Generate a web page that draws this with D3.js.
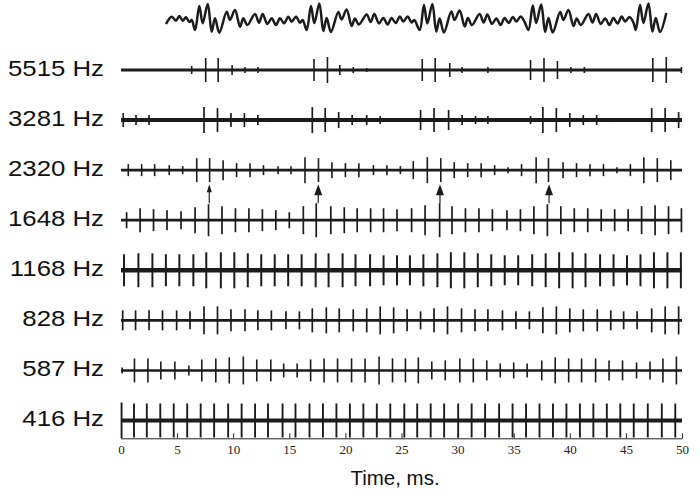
<!DOCTYPE html>
<html><head><meta charset="utf-8">
<script src="https://cdn.jsdelivr.net/npm/d3@7"></script>
<style>body{margin:0;background:#fff}svg{display:block}</style>
</head><body><svg id="chart" width="700" height="497"></svg>
<script>
// ---------- data ----------
const channels = ["5515 Hz","3281 Hz","2320 Hz","1648 Hz","1168 Hz","828 Hz","587 Hz","416 Hz"];
const xTicks = [0,5,10,15,20,25,30,35,40,45,50];
const xLabel = "Time, ms.";

const t5515 = [6.3,7.55,8.66,9.9,11.05,12.2,17.2,18.4,19.5,20.7,21.9,26.85,28.0,29.3,30.4,32.7,36.5,37.7,38.9,40.1,41.3,47.4,48.6,49.95];
const a5515 = [4,12,12,5,3,3,11,13,5,3,2,11,12,7,3,3,10,12,9,3,3,12,13,3];

const t3281 = [0.2,1.34,2.5,3.8,7.4,8.6,9.8,11.0,12.2,13.4,17.05,18.2,19.4,20.6,21.9,23.1,26.7,27.9,29.2,30.4,31.6,32.7,34.0,36.5,37.6,38.8,40.0,41.2,42.4,43.7,47.3,48.5,49.7];
const a3281 = [7,5,5,2,13,12,7,7,5,2,13,12,8,5,5,4,10,12,10,5,4,4,2,4,13,12,7,5,5,2,12,12,8];

const t2320 = [0.65,1.84,3.0,4.3,5.5,6.75,7.9,9.1,10.3,11.5,12.7,14.0,15.15,16.4,17.6,18.8,20.0,21.2,22.5,23.7,24.9,26.05,27.3,28.5,29.7,30.9,32.1,33.3,34.5,35.7,37.0,38.1,39.4,40.6,41.8,43.0,44.2,45.4,46.6,47.8,49.0];
const a2320 = [6,6,6,5,4,12,12,10,7,7,5,4,4,13,12,8,7,7,5,5,4,9,13,12,8,7,7,5,3,6,13,12,8,7,6,6,3,6,13,12,10];

const t1648 = [0.5,1.7,2.9,4.1,5.35,6.6,7.8,9.0,10.2,11.4,12.6,13.8,15.0,16.25,17.4,18.7,19.9,21.05,22.25,23.4,24.6,25.9,27.1,28.4,29.5,30.7,31.9,33.1,34.4,35.6,36.8,38.0,39.2,40.4,41.6,42.8,44.0,45.2,46.4,47.6,48.8,49.95];
const a1648 = [8,12,11,10,9,13,16,14,12,12,11,10,8,14,17,14,13,12,12,12,11,12,15,17,14,12,12,11,10,11,14,16,14,12,12,11,11,11,14,15,14,12];

const t1168 = [0.27,1.55,2.8,4.0,5.2,6.45,7.6,8.9,10.1,11.3,12.5,13.7,14.9,16.1,17.35,18.5,19.75,20.9,22.2,23.4,24.6,25.75,26.95,28.2,29.4,30.6,31.8,33.0,34.2,35.4,36.65,37.85,39.05,40.25,41.4,42.7,43.9,45.1,46.3,47.5,48.7,49.9];
const a1168 = [16,17,17,16,16,16,18,18,18,17,16,16,16,16,17,17,17,16,16,15,15,15,16,17,18,18,17,16,15,15,16,17,18,18,17,16,16,15,16,18,18,18];

const t828 = [0.15,1.3,2.5,3.7,4.96,6.15,7.4,8.6,9.8,11.05,12.2,13.4,14.7,15.9,17.05,18.3,19.45,20.7,21.9,23.1,24.3,25.5,26.7,27.9,29.1,30.35,31.55,32.7,34.0,35.2,36.4,37.6,38.8,40.0,41.2,42.45,43.65,44.8,46.0,47.3,48.5,49.7];
const a828 = [10,10,10,10,10,9,14,14,11,11,10,10,9,9,12,13,12,11,12,14,13,11,9,12,14,12,11,11,10,9,9,13,14,12,11,11,10,9,9,12,14,14];

const t587 = [0.1,1.2,2.4,3.55,4.8,6.05,7.2,8.45,9.65,10.9,12.1,13.35,14.5,15.7,16.9,18.1,19.3,20.55,21.75,23.0,24.2,25.35,26.5,27.7,28.9,30.2,31.4,32.6,33.8,35.0,36.2,37.5,38.7,39.9,41.05,42.3,43.5,44.7,45.95,47.15,48.3,49.5];
const a587 = [3,12,12,9,9,5,11,12,13,14,11,11,7,7,11,12,12,12,12,14,12,12,13,9,10,12,12,10,7,8,7,10,13,12,12,12,10,10,8,9,12,14];

const t416 = [0.05,1.16,2.3,3.5,4.7,5.9,7.1,8.3,9.55,10.75,11.95,13.1,14.4,15.55,16.8,18.0,19.2,20.4,21.6,22.8,24.0,25.25,26.4,27.6,28.8,30.05,31.25,32.45,33.7,34.9,36.1,37.3,38.5,39.7,40.9,42.1,43.3,44.5,45.7,46.95,48.2,49.4];
const a416 = [18,17,17,17,17,17,17,17,17,17,17,17,17,17,17,17,17,17,17,17,17,17,17,17,17,17,17,17,17,17,17,17,17,17,17,17,17,17,17,17,17,17];

const arrowTimes = [7.87, 17.58, 28.43, 38.15];

const waveTimes = [4.01,4.52,4.90,5.20,5.50,5.79,6.09,6.30,6.60,
 6.98,7.28,7.73,8.08,8.38,8.76,9.42,9.71,10.16,10.61,10.90,11.26,11.94,12.30,12.63,13.04,13.43,13.81,14.17,14.53,14.91,15.21,15.60,15.95,16.19,16.55,
 16.93,17.23,17.68,18.03,18.33,18.71,19.37,19.66,20.11,20.56,20.85,21.21,21.89,22.25,22.58,22.99,23.38,23.76,24.12,24.48,24.86,25.16,25.55,25.90,26.14,26.62,
 27.00,27.30,27.75,28.10,28.40,28.78,29.44,29.73,30.18,30.63,30.92,31.28,31.96,32.32,32.65,33.06,33.45,33.83,34.19,34.55,34.93,35.23,35.62,35.97,36.32,
 36.70,37.00,37.45,37.80,38.10,38.48,39.14,39.43,39.88,40.33,40.62,40.98,41.66,42.02,42.35,42.76,43.15,43.53,43.89,44.25,44.63,44.93,45.32,45.67,45.88,
 46.26,46.56,47.01,47.36,47.66,48.04,48.60];
const waveValues = [-7,0.3,-3.7,1,-3.7,-0.3,-5,-3,-13,
 11,-6.3,13,-14.7,-1.3,-15.7,5.3,-3,7,-9.7,-1.3,-8,3,-5.7,3,-7,-1.3,-8,-1.3,-6.3,0.3,-4.7,0.3,-5.7,-3,-13,
 11,-6,13.5,-14,-1,-15,5,-2.5,7.5,-9,-1.5,-7.5,2.5,-5,3,-6.5,-1,-7.5,-1,-6,0.5,-4.5,0.5,-5.5,-3,-13,
 12,-6.5,13,-14.5,-1.5,-15.5,5.5,-3,6.5,-9.5,-1,-8,3,-5.5,2.5,-7,-1.5,-8,-1,-6,0,-4.5,0.5,-5,-13,
 11.5,-6,12.5,-15,-1,-15.5,5,-3,7,-9,-1.5,-8,3,-5.5,3,-7,-1.5,-8,-1,-6.5,0.5,-4.5,0,-5.5,-13,
 12,-6,13.5,-14.5,-1,-15,4];

// ---------- assemble ----------
const spikeData = [
  {ch:"5515 Hz", t:t5515, a:a5515},
  {ch:"3281 Hz", t:t3281, a:a3281},
  {ch:"2320 Hz", t:t2320, a:a2320},
  {ch:"1648 Hz", t:t1648, a:a1648},
  {ch:"1168 Hz", t:t1168, a:a1168},
  {ch:"828 Hz",  t:t828,  a:a828},
  {ch:"587 Hz",  t:t587,  a:a587},
  {ch:"416 Hz",  t:t416,  a:a416}
];
const baseWidth = {"5515 Hz":3.2,"3281 Hz":4,"2320 Hz":2.8,"1648 Hz":2.8,"1168 Hz":4.5,"828 Hz":2.8,"587 Hz":2.4,"416 Hz":4.2};
const spikeWidth = {"5515 Hz":1.6,"3281 Hz":1.7,"2320 Hz":1.6,"1648 Hz":1.7,"1168 Hz":2,"828 Hz":1.7,"587 Hz":1.6,"416 Hz":1.9};

// ---------- scales ----------
const svg = d3.select("#chart");
const ink = "#1c1c1c";
const x = d3.scaleLinear().domain([0,50]).range([121,682]);
const y = d3.scalePoint().domain(channels).range([70,420.5]);
const amp = d3.scaleLinear().domain([0,20]).range([0,20]);
const wy = d3.scaleLinear().domain([-16,16]).range([33,1]);

// ---------- traces ----------
const rows = svg.append("g").selectAll("g").data(spikeData).join("g")
  .attr("transform", d => `translate(0,${y(d.ch)})`);
rows.append("line")
  .attr("x1", x(0)).attr("x2", x(50)).attr("y1", 0).attr("y2", 0)
  .attr("stroke", ink).attr("stroke-width", d => baseWidth[d.ch]);
rows.each(function(d){
  const pts = d.t.map((t,i)=>({t, a:d.a[i]}));
  d3.select(this).selectAll("line.spk").data(pts).join("line").attr("class","spk")
    .attr("x1", p=>x(p.t)).attr("x2", p=>x(p.t))
    .attr("y1", p=>-amp(p.a)).attr("y2", p=>amp(p.a))
    .attr("stroke", ink).attr("stroke-width", spikeWidth[d.ch]);
});

// ---------- arrows ----------
const yTop = y("2320 Hz"), yBot = y("1648 Hz");
const ag = svg.append("g").selectAll("g").data(arrowTimes).join("g");
ag.append("line")
  .attr("x1", d=>x(d)).attr("x2", d=>x(d))
  .attr("y1", yBot-17).attr("y2", yTop+20)
  .attr("stroke", "#333").attr("stroke-width", 1.3);
ag.append("path")
  .attr("d", (d,i)=>{
    const cx = x(d), tip = yTop+14, w = i===0?2.5:4, h = i===0?8:11;
    return `M${cx},${tip}L${cx-w},${tip+h}L${cx+w},${tip+h}Z`;
  })
  .attr("fill", "#1a1a1a");

// ---------- top waveform ----------
const wave = waveTimes.map((t,i)=>({t, v:waveValues[i]}));
svg.append("path").datum(wave)
  .attr("d", d3.line().x(d=>x(d.t)).y(d=>wy(d.v)).curve(d3.curveCatmullRom.alpha(0.5)))
  .attr("fill","none").attr("stroke", ink).attr("stroke-width", 2.5)
  .attr("stroke-linejoin","round");

// ---------- channel labels ----------
const yAxis = svg.append("g").attr("transform","translate(104,0)")
  .call(d3.axisLeft(y).tickSize(0).tickPadding(0));
yAxis.select(".domain").remove();
yAxis.selectAll("text")
  .attr("x", 0).attr("dy", "0.24em")
  .attr("transform", "scale(1.2,1)")
  .style("font-family", "Arial, 'Liberation Sans', sans-serif")
  .style("font-size", "21.5px").attr("fill", "#111");

// ---------- x axis ----------
const xAxis = svg.append("g").attr("transform","translate(0,438.3)")
  .call(d3.axisBottom(x).tickValues(xTicks).tickSize(-5).tickSizeOuter(0).tickPadding(6));
xAxis.select(".domain").attr("stroke", "#222");
xAxis.selectAll(".tick line").attr("stroke", "#222");
xAxis.selectAll("text")
  .style("font-family", "'Liberation Serif', 'Times New Roman', serif")
  .style("font-size", "13px").attr("fill", "#222");

svg.append("text").attr("x", 395).attr("y", 485)
  .attr("text-anchor","middle")
  .style("font-family", "Arial, 'Liberation Sans', sans-serif")
  .style("font-size", "20.5px").attr("fill","#111")
  .text(xLabel);
</script></body></html>
